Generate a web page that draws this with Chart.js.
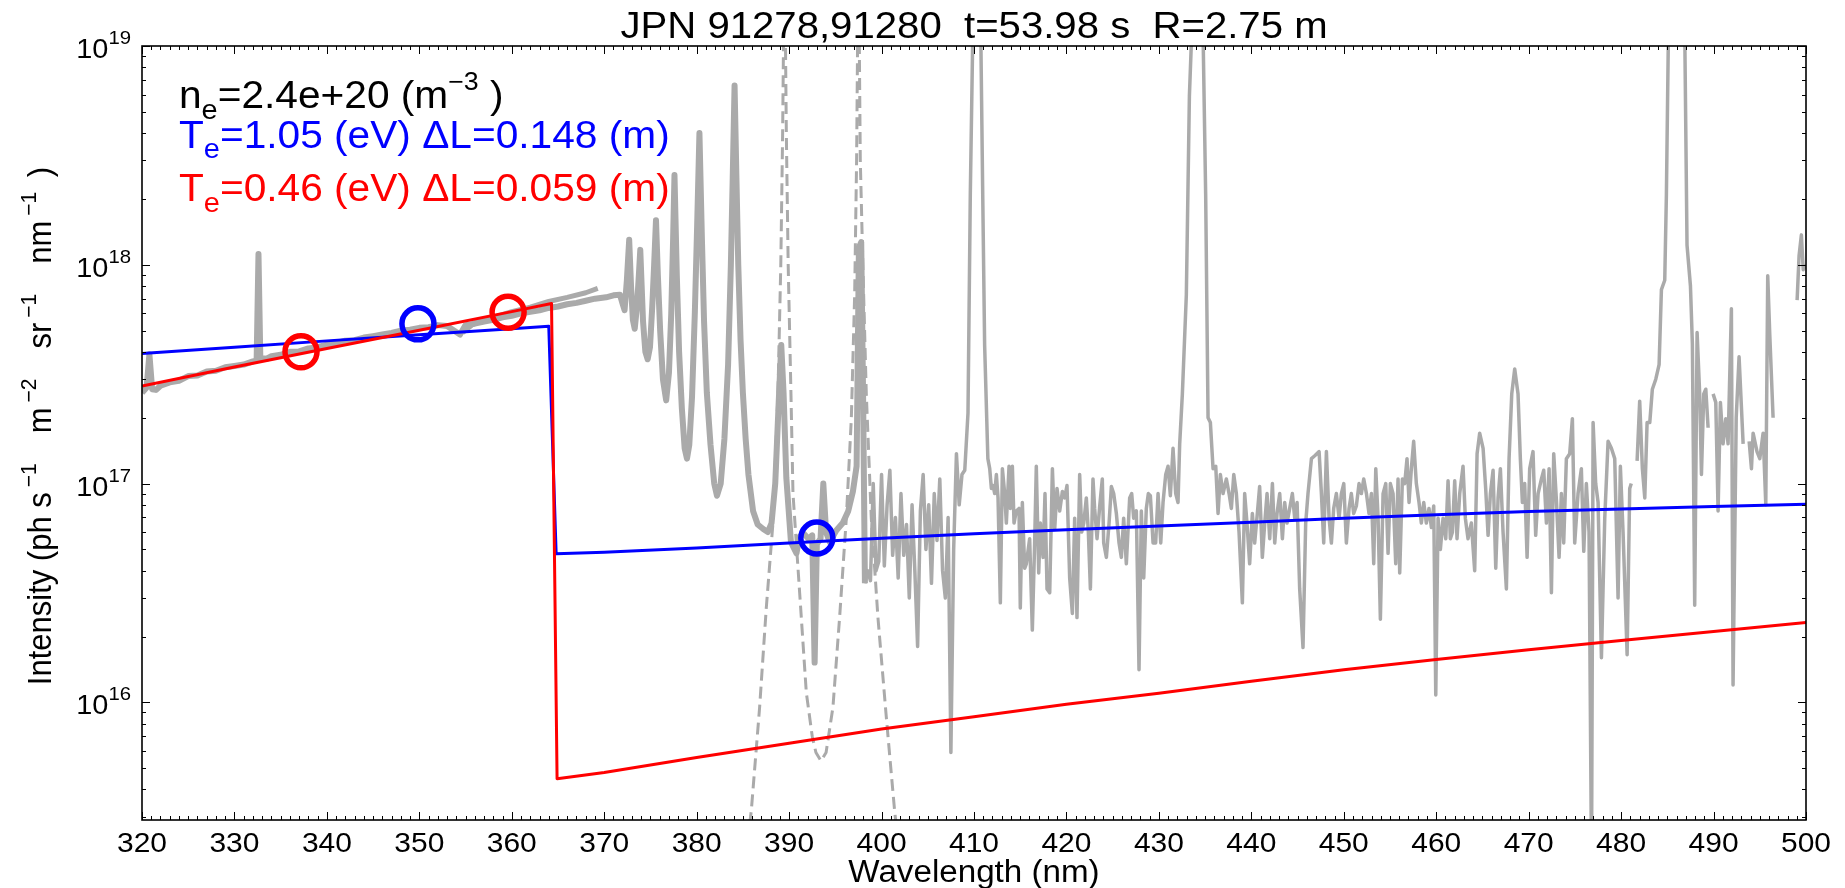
<!DOCTYPE html>
<html>
<head>
<meta charset="utf-8">
<script src="https://cdn.jsdelivr.net/npm/chart.js@4.4.1/dist/chart.umd.min.js"></script>
<style>
  html, body { margin: 0; padding: 0; background: #fff; }
  canvas { display: block; }
</style>
</head>
<body>
<canvas id="chart" width="1845" height="888"></canvas>
<script>
// Spectrum, shot 1 (320-398 nm)
const wlA = [320.0, 320.5, 320.8, 321.1, 321.5, 322, 323, 324, 325, 326, 327, 328, 329, 330, 331, 332, 332.4, 332.6, 332.8,
  333.5, 334, 335, 336, 337, 338, 339, 340, 341, 342, 343, 344, 345, 346, 347, 348, 349, 350, 351, 352, 353, 354.4,
  355, 356, 357, 358, 359, 360, 361, 362, 363, 364, 365, 366, 367, 368, 369, 370.2, 371.0, 371.7, 372.0, 372.2, 372.45,
  372.7, 372.9, 373.1, 373.3, 373.55, 373.75, 373.9, 374.05, 374.2, 374.45, 374.7, 374.95, 375.2, 375.4, 375.6, 375.8,
  376.05, 376.35, 376.7, 377.0, 377.25, 377.45, 377.6, 377.85, 378.1, 378.4, 378.7, 378.95, 379.2, 379.5, 379.8,
  380.05, 380.3, 380.55, 380.8, 381.1, 381.5, 381.9, 382.2, 382.6, 383.0, 383.4, 383.7, 383.9, 384.1, 384.3, 384.5,
  384.75, 385.0, 385.3, 385.6, 386.1, 386.6, 387.2, 387.7, 388.1, 388.5, 388.9, 389.15, 389.4, 389.7, 390.2, 390.8,
  391.1, 391.6, 392.1, 392.5, 392.76, 393.0, 393.4, 393.7, 394.0, 394.4, 395.1, 395.8, 396.4, 396.9, 397.3, 397.55,
  397.8, 398.0, 398.2];
const intA = [2.6e17, 2.75e17, 3.9e17, 2.7e17, 2.68e17, 2.8e17, 2.9e17, 2.95e17, 3.1e17, 3.12e17, 3.25e17, 3.28e17, 3.4e17,
  3.45e17, 3.5e17, 3.62e17, 3.65e17, 1.12e18, 3.75e17, 3.72e17, 3.82e17, 3.88e17, 4.0e17, 4.02e17, 4.15e17, 4.2e17,
  4.32e17, 4.38e17, 4.5e17, 4.52e17, 4.65e17, 4.72e17, 4.8e17, 4.88e17, 5.0e17, 5.05e17, 5.15e17, 5.18e17, 5.3e17,
  5.25e17, 4.8e17, 5.3e17, 5.38e17, 5.5e17, 5.6e17, 5.75e17, 5.85e17, 6.0e17, 6.1e17, 6.2e17, 6.35e17, 6.45e17,
  6.6e17, 6.7e17, 6.85e17, 7.0e17, 7.1e17, 7.25e17, 7.3e17, 6.6e17, 6.2e17, 8.5e17, 1.3e18, 8.0e17, 5.6e17, 5.1e17,
  6.5e17, 9.0e17, 1.17e18, 8.0e17, 5.5e17, 4.0e17, 3.7e17, 4.2e17, 6.5e17, 1.0e18, 1.6e18, 9.0e17, 5.0e17, 3.0e17,
  2.4e17, 3.2e17, 6.0e17, 1.3e18, 2.57e18, 9.0e17, 4.0e17, 2.2e17, 1.45e17, 1.3e17, 1.5e17, 2.5e17, 6.0e17, 1.5e18,
  4.0e18, 1.4e18, 5.5e17, 2.6e17, 1.5e17, 1.0e17, 8.8e16, 1.0e17, 1.6e17, 3.5e17, 1.0e18, 2.5e18, 6.6e18, 2.5e18,
  1.0e18, 4.5e17, 2.6e17, 1.6e17, 1.1e17, 7.5e16, 6.5e16, 6.2e16, 6.0e16, 6.6e16, 1.0e17, 2.5e17, 4.3e17, 2.6e17,
  1.06e17, 5.4e16, 4.8e16, 5.7e16, 5.9e16, 5.6e16, 5.8e16, 1.52e16, 5.3e16, 5.6e16, 1.0e17, 6.0e16, 5.4e16, 6.1e16,
  6.6e16, 7.5e16, 9.2e16, 1.2e17, 1.2e18, 1.27e18, 2.6e17, 3.5e16];

// Spectrum, shot 1 upper band overlap (354-369 nm)
const wlA2 = [354.7, 356, 358, 360, 362, 364, 366, 368, 369.3];
const intA2 = [4.9e17, 5.45e17, 5.75e17, 6.1e17, 6.4e17, 6.8e17, 7.1e17, 7.45e17, 7.8e17];

// Spectrum, shot 2 (398-497 nm), null = gap in the data
const wlB = [398.2, 398.5, 398.8, 399.1, 399.4, 399.7, 400.0, 400.3, 400.6, 400.9, 401.2, 401.5, 401.8, 402.1, 402.4,
  402.7, 403.0, 403.3, 403.6, 403.9, 404.2, 404.5, 404.8, 405.1, 405.4, 405.7, 406.0, 406.3, 406.6, 406.9, 407.2,
  407.5, 407.8, 408.1, 408.4, 408.7, 409.0, 409.35, 409.6, 409.85, 410.2, 410.45, 410.75, 410.95, 411.15, 411.5, 411.7,
  411.88, 412.06, 412.24, 412.42, 412.6, 412.85, 413.07, 413.32, 413.5, 413.79, 413.93, 414.15, 414.33, 414.58,
  414.87, 415.01, 415.23, 415.48, 415.66, 416.02, 416.31, 416.56, 416.74, 417.0, 417.18, 417.47, 417.68, 417.9,
  418.19, 418.48, 418.73, 418.98, 419.27, 419.56, 419.81, 420.06, 420.35, 420.64, 420.89, 421.14, 421.43, 421.65,
  421.87, 422.15, 422.37, 422.59, 422.87, 423.05, 423.31, 423.6, 423.88, 424.03, 424.32, 424.61, 424.86, 425.11,
  425.4, 425.69, 425.94, 426.19, 426.48, 426.84, 427.06, 427.27, 427.56, 427.85, 428.1, 428.36, 428.64, 428.86,
  429.08, 429.37, 429.65, 429.91, 430.2, 430.45, 430.74, 430.99, 431.24, 431.53, 431.82, 432.07, 432.25, 432.54,
  432.97, 433.3, 433.5, 433.9, 434.4, 434.8, 435.06, 435.32, 435.57, 435.86, 436.15, 436.4, 436.65, 436.94,
  437.3, 437.59, 437.84, 438.1, 438.38, 438.67, 439.03, 439.28, 439.53, 439.82, 440.11, 440.36, 440.65, 440.9,
  441.19, 441.45, 441.7, 441.99, 442.28, 442.53, 442.78, 443.07, 443.36, 443.61, 443.86, 444.15, 444.44, 444.69,
  444.95, 445.23, 445.59, 445.88, 446.13, 446.5, 446.86, 447.33, 447.58, 447.83, 448.12, 448.41, 448.66, 448.91,
  449.2, 449.49, 449.74, 450.0, 450.28, 450.57, 450.82, 451.07, 451.36, 451.65, 451.9, 452.16, 452.45, 452.73,
  452.99, 453.24, 453.46, 453.71, 453.96, 454.25, 454.54, 454.79, 455.04, 455.33, 455.62, 455.87, 456.05, 456.34,
  456.59, 456.84, 457.06, 457.31, 457.56, 457.85, 458.14, 458.39, 458.65, 458.93, 459.22, 459.48, 459.73, 459.95,
  460.2, 460.45, 460.74, 461.03, 461.28, 461.53, 461.75, 462.0, 462.25, 462.54, 462.9, 463.15, 463.44, 463.8,
  464.16, 464.42, 464.7, 465.07, 465.35, 465.61, 465.86, 466.15, 466.44, 466.69, 466.94, 467.23, 467.59, 467.88,
  468.17, 468.49, 468.85, 469.1, 469.32, 469.57, 469.83, 470.11, 470.47, 470.76, 471.02, 471.38, 471.63, 471.92,
  472.21, 472.46, 472.71, 473.0, 473.29, 473.54, 473.79, 474.08, 474.44, 474.73, 474.98, 475.34, 475.7, 475.96,
  476.24, 476.53, 476.8, 476.97, 477.25, 477.51, 477.87, 478.23, 478.59, 478.95, 479.31, 479.67, 479.92, 480.21,
  480.65, 480.93, 481.1, 481.4, 481.73, 482.01, 482.3, 482.56, 482.81, 483.1, 483.38, 483.75, 484.11, 484.36,
  484.72, 484.9, 485.1, 485.8, 486.5, 486.9, 487.13, 487.5, 487.71, 487.96, 488.22, 488.5, 488.69, 488.94,
  489.16, 489.41, 489.7, 489.95, 490.24, 490.49, 490.74, 491.03, 491.32, 491.57, 491.93, 492.11, 492.45, 492.76,
  493.2, 493.5, 493.85, 494.1, 494.28, 494.7, 495.0, 495.36, 495.65, 495.86, 496.08, 496.44];
const intB = [3.5e16, 4.0e16, 3.6e16, 1.0e17, 4.0e16, 4.4e16, 1.1e17, 4.2e16, 8.0e16, 1.15e17, 4.7e16, 7.0e16, 3.7e16,
  9.0e16, 4.7e16, 6.5e16, 3.0e16, 8.0e16, 4.0e16, 1.8e16, 7.5e16, 1.1e17, 5.0e16, 8.0e16, 3.5e16, 9.0e16, 5.5e16,
  1.05e17, 4.0e16, 3.0e16, 7.0e16, 5.9e15, 5.0e16, 1.37e17, 8.0e16, 1.1e17, 1.15e17, 2.1e17, 2.1e18, 1.0e19, 3.0e19,
  3.0e19, 1.0e19, 2.0e18, 4.3e17, 1.3e17, 1.17e17, 9.5e16, 9.8e16, 9.0e16, 1.1e17, 8.6e16, 2.85e16, 1.17e17, 9.0e16,
  6.6e16, 1.2e17, 7.7e16, 1.2e17, 6.6e16, 7.5e16, 7.7e16, 2.7e16, 8.2e16, 4.1e16, 4.3e16, 5.6e16, 2.14e16, 5.35e16,
  1.2e17, 3.9e16, 6.6e16, 4.6e16, 9.0e16, 3.3e16, 3.17e16, 1.17e17, 6.2e16, 9.5e16, 7.5e16, 9.2e16, 8.6e16, 9.8e16,
  3.7e16, 2.55e16, 6.95e16, 2.44e16, 1.1e17, 6.0e16, 6.6e16, 8.6e16, 6.0e16, 3.3e16, 1.05e17, 7.7e16, 5.6e16, 7.9e16,
  1.05e17, 5.35e16, 4.6e16, 6.6e16, 9.7e16, 9.0e16, 7.3e16, 5.35e16, 4.6e16, 6.95e16, 4.3e16, 8.6e16, 9.0e16, 6.95e16,
  7.5e16, 1.41e16, 7.5e16, 3.7e16, 7.7e16, 9.0e16, 8.8e16, 5.35e16, 5.35e16, 9.0e16, 5.35e16, 8.2e16, 1.1e17, 1.2e17,
  8.8e16, 1.45e17, 9.0e16, 8.2e16, 1.52e17, 2.57e17, 7.3e17, 5.9e18, 1.0e19, 3.0e19, 3.0e19, 1.0e19, 2.1e18, 2.0e17,
  1.9e17, 1.17e17, 1.2e17, 7.3e16, 1.1e17, 9.0e16, 1.05e17, 9.0e16, 7.7e16, 1.1e17, 9.0e16, 6.0e16, 2.85e16, 9.0e16,
  6.6e16, 4.3e16, 7.3e16, 5.35e16, 7.3e16, 9.7e16, 4.6e16, 6.6e16, 9.0e16, 5.6e16, 1.0e17, 5.35e16, 7.3e16, 9.0e16,
  5.6e16, 8.2e16, 6.6e16, 7.7e16, 9.0e16, 6.95e16, 8.2e16, 3.3e16, 1.78e16, 6.6e16, 9.0e16, 1.3e17, 1.34e17, 1.4e17,
  9.0e16, 5.35e16, 1.4e17, 6.95e16, 5.35e16, 7.7e16, 9.0e16, 6.95e16, 9.0e16, 1.0e17, 5.35e16, 7.7e16, 9.0e16, 7.3e16,
  7.9e16, 1.0e17, 9.0e16, 1.05e17, 9.0e16, 7.3e16, 9.0e16, 4.3e16, 1.17e17, 6.95e16, 2.4e16, 9.0e16, 1.0e17, 4.8e16,
  1.0e17, 9.0e16, 4.3e16, 1.05e17, 3.9e16, 1.05e17, 1.0e17, 1.3e17, 8.2e16, 1.17e17, 1.56e17, 1.0e17, 8.2e16, 6.6e16,
  8.2e16, 6.6e16, 7.7e16, 6.3e16, 7.9e16, 1.08e16, 6.95e16, 5.0e16, 6.95e16, 5.6e16, 1.03e17, 5.6e16, 6.0e16, 1.03e17,
  5.6e16, 9.0e16, 1.2e17, 6.95e16, 5.6e16, 6.6e16, 4.0e16, 1.37e17, 1.7e17, 1.45e17, 9.5e16, 5.8e16, 9.0e16, 1.15e17,
  4.1e16, 8.6e16, 1.17e17, 6.0e16, 3.3e16, 1.3e17, 2.57e17, 3.34e17, 2.57e17, 1.3e17, 8.2e16, 1.0e17, 4.6e16, 1.17e17,
  1.4e17, 5.8e16, 9.0e16, 1.05e17, 1.15e17, 6.6e16, 1.17e17, 3.17e16, 1.37e17, 8.4e16, 4.6e16, 9.0e16, 5.35e16,
  1.3e17, 1.37e17, 1.98e17, 5.35e16, 9.0e16, 1.17e17, 4.9e16, 1.0e17, 6.0e16, 1.8e15, 1.9e17, 1.0e17, 8.2e16, 1.6e16,
  6.95e16, 1.56e17, 1.45e17, 1.3e17, 3.0e16, 1.2e17, 6.0e16, 1.65e16, 9.5e16, 1.0e17, null, 1.27e17, 2.38e17, 1.17e17,
  8.6e16, 1.9e17, 1.9e17, 2.7e17, 3.0e17, 3.5e17, 7.7e17, 8.5e17, 2.1e18, 1.0e19, 5.0e19, 5.0e19, 1.0e19, 1.23e18,
  8.0e17, 4.34e17, 2.78e16, 4.9e17, 2.57e17, 1.1e17, 2.57e17, 2.7e17, 1.8e17, null, 2.57e17, 2.35e17, 7.5e16, 2.35e17,
  1.52e17, 1.98e17, 1.52e17, 6.3e17, 1.2e16, 2.0e17, 3.8e17, 1.52e17, null, 1.56e17, 1.17e17, 1.7e17, 1.4e17, 1.3e17,
  1.7e17, 8.0e16, 8.9e17, 4.8e17, 2.0e17];

// Spectrum tail at the right edge
const wlC = [499.04, 499.25, 499.5, 499.7, 500.0];
const intC = [6.9e17, 1.1e18, 1.37e18, 9.5e17, 1.0e18];

// Dashed fit of the two Balmer lines
const wlFit = [385.5, 385.91, 386.81, 387.53, 388.25, 388.79, 389.1, 389.3, 389.5, 389.7, 389.9, 390.2, 390.42, 391.14,
  391.86, 392.5, 392.9, 393.45, 394.0, 394.74, 395.46, 396.19, 396.73, 397.09, 397.3, 397.5, 397.7, 397.99, 398.35,
  398.89, 399.61, 400.51, 401.41, 401.8];
const intFit = [2.3e15, 3.2e15, 9.5e15, 2.7e16, 6.6e16, 2.57e17, 1.0e18, 4.0e18, 3.0e19, 4.0e18, 1.0e18, 2.57e17, 9.0e16,
  3.17e16, 1.11e16, 7.0e15, 5.9e15, 5.4e15, 5.9e15, 9.5e15, 2.44e16, 6.95e16, 1.98e17, 7.3e17, 3.0e18, 3.0e19, 3.0e18,
  9.5e17, 2.57e17, 6.95e16, 2.44e16, 8.6e15, 3.2e15, 2.3e15];

// Model continua
const wlBlue = [320, 330, 340, 350, 360, 364.0, 364.8, 370, 380, 390, 400, 410, 420, 430, 440, 450, 460, 470, 480, 490, 500];
const intBlue = [3.93e17, 4.2e17, 4.49e17, 4.79e17, 5.1e17, 5.24e17, 4.78e16, 4.85e16, 5.08e16, 5.35e16, 5.63e16, 5.9e16,
  6.15e16, 6.4e16, 6.65e16, 6.95e16, 7.2e16, 7.45e16, 7.65e16, 7.85e16, 8.05e16];
const wlRed = [320, 330, 340, 350, 360, 364.3, 364.9, 370, 380, 390, 400, 410, 420, 430, 440, 450, 460, 470, 480, 490, 500];
const intRed = [2.79e17, 3.41e17, 4.14e17, 5.02e17, 6.11e17, 6.65e17, 4.48e15, 4.78e15, 5.6e15, 6.5e15, 7.55e15, 8.6e15,
  9.8e15, 1.1e16, 1.25e16, 1.41e16, 1.57e16, 1.74e16, 1.92e16, 2.11e16, 2.32e16];

// Fitted points
const wlBlueDots = [349.85, 393.0];
const intBlueDots = [5.37e17, 5.64e16];
const wlRedDots = [337.2, 359.6];
const intRedDots = [4.0e17, 6.07e17];

// Axes and texts
const X_MIN = 320, X_MAX = 500, Y_MIN = 2.9e15, Y_MAX = 1e19;
const xTickLabels = [320, 330, 340, 350, 360, 370, 380, 390, 400, 410, 420, 430, 440, 450, 460, 470, 480, 490, 500];
const yTickExps = [16, 17, 18, 19];
const titleText = 'JPN 91278,91280  t=53.98 s  R=2.75 m';
const xLabelText = 'Wavelength (nm)';

const FONT = "'Liberation Sans', Arial, Helvetica, sans-serif";
const STRETCH = 1.07; // the reference text is a bit wider than tall
const GRAY = '#aaaaaa';

function pts(xs, ys) {
  return xs.map((x, i) => ({ x: x, y: ys[i] }));
}

function runsWidth(ctx, runs) {
  let w = 0;
  runs.forEach(r => {
    ctx.font = r.size + 'px ' + FONT;
    w += ctx.measureText(r.t).width + (r.gap || 0);
  });
  return w;
}

// draw text made of pieces (for sub/superscripts)
function drawRuns(ctx, runs, x, y, align, color, rotate) {
  ctx.save();
  ctx.translate(x, y);
  if (rotate) {
    ctx.rotate(-Math.PI / 2);
    ctx.scale(1, STRETCH);
  } else {
    ctx.scale(STRETCH, 1);
  }
  const w = runsWidth(ctx, runs);
  let cx = align === 'center' ? -w / 2 : (align === 'right' ? -w : 0);
  ctx.fillStyle = color;
  ctx.textAlign = 'left';
  ctx.textBaseline = 'alphabetic';
  runs.forEach(r => {
    ctx.font = r.size + 'px ' + FONT;
    ctx.fillText(r.t, cx, r.dy || 0);
    cx += ctx.measureText(r.t).width + (r.gap || 0);
  });
  ctx.restore();
}

const axesPlugin = {
  id: 'axesPlugin',
  afterDraw(chart) {
    const ctx = chart.ctx;
    const xs = chart.scales.x;
    const ys = chart.scales.y;
    const a = chart.chartArea;

    ctx.save();
    ctx.strokeStyle = '#000';
    ctx.lineWidth = 1;
    ctx.beginPath();
    // x ticks, every nm, bottom and top, pointing in
    for (let v = X_MIN; v <= X_MAX; v++) {
      const px = Math.round(xs.getPixelForValue(v)) + 0.5;
      const len = v % 10 === 0 ? 8 : 4;
      ctx.moveTo(px, a.bottom); ctx.lineTo(px, a.bottom - len);
      ctx.moveTo(px, a.top); ctx.lineTo(px, a.top + len);
    }
    // y ticks, decades and 2..9, left and right
    for (let e = 15; e <= 19; e++) {
      for (let m = 1; m <= 9; m++) {
        const v = m * Math.pow(10, e);
        if (v < Y_MIN || v > Y_MAX) continue;
        const py = Math.round(ys.getPixelForValue(v)) + 0.5;
        const len = m === 1 ? 8 : 4;
        ctx.moveTo(a.left, py); ctx.lineTo(a.left + len, py);
        ctx.moveTo(a.right, py); ctx.lineTo(a.right - len, py);
      }
    }
    ctx.stroke();

    ctx.lineWidth = 1.6;
    ctx.strokeRect(a.left, a.top, a.right - a.left, a.bottom - a.top);
    ctx.restore();

    // tick labels
    xTickLabels.forEach(v => {
      drawRuns(ctx, [{ t: String(v), size: 28 }], xs.getPixelForValue(v), 852, 'center', '#000');
    });
    yTickExps.forEach(e => {
      const py = ys.getPixelForValue(Math.pow(10, e));
      drawRuns(ctx, [{ t: '10', size: 27 }, { t: String(e), size: 19, dy: -14 }], a.left - 11, py + 12, 'right', '#000');
    });

    // axis titles
    drawRuns(ctx, [{ t: xLabelText, size: 31 }], (a.left + a.right) / 2, 882, 'center', '#000');
    drawRuns(ctx, [
      { t: 'Intensity (ph s', size: 31, gap: 5 },
      { t: '\u22121', size: 21, dy: -14, gap: 30 },
      { t: 'm', size: 31, gap: 5 },
      { t: '\u22122', size: 21, dy: -14, gap: 30 },
      { t: 'sr', size: 31, gap: 5 },
      { t: '\u22121', size: 21, dy: -14, gap: 30 },
      { t: 'nm', size: 31, gap: 5 },
      { t: '\u22121', size: 21, dy: -14, gap: 6 },
      { t: ' )', size: 31 }
    ], 51, 426, 'center', '#000', true);

    // title
    drawRuns(ctx, [{ t: titleText, size: 37.5 }], (a.left + a.right) / 2, 38, 'center', '#000');

    // fit results
    drawRuns(ctx, [
      { t: 'n', size: 38 }, { t: 'e', size: 27, dy: 11 }, { t: '=2.4e+20 (m', size: 38 },
      { t: '\u22123', size: 25, dy: -18 }, { t: ' )', size: 38 }
    ], 179, 108, 'left', '#000');
    drawRuns(ctx, [
      { t: 'T', size: 38 }, { t: 'e', size: 27, dy: 10 }, { t: '=1.05 (eV) \u0394L=0.148 (m)', size: 38 }
    ], 179, 148, 'left', '#0000ff');
    drawRuns(ctx, [
      { t: 'T', size: 38 }, { t: 'e', size: 27, dy: 11 }, { t: '=0.46 (eV) \u0394L=0.059 (m)', size: 38 }
    ], 179, 201, 'left', '#ff0000');
  }
};

new Chart(document.getElementById('chart'), {
  type: 'line',
  data: {
    datasets: [
      { data: pts(wlRedDots, intRedDots), showLine: false, pointRadius: 16, pointBorderWidth: 5.5,
        pointBorderColor: '#ff0000', pointBackgroundColor: 'rgba(0,0,0,0)', clip: false, order: 0 },
      { data: pts(wlBlueDots, intBlueDots), showLine: false, pointRadius: 16, pointBorderWidth: 5.5,
        pointBorderColor: '#0000ff', pointBackgroundColor: 'rgba(0,0,0,0)', clip: false, order: 1 },
      { data: pts(wlRed, intRed), borderColor: '#ff0000', borderWidth: 3, pointRadius: 0, clip: 0, order: 2 },
      { data: pts(wlBlue, intBlue), borderColor: '#0000ff', borderWidth: 3, pointRadius: 0, clip: 0, order: 3 },
      { data: pts(wlFit, intFit), borderColor: GRAY, borderWidth: 3, borderDash: [12, 6], pointRadius: 0, clip: 0, order: 4 },
      { data: pts(wlB, intB), borderColor: GRAY, borderWidth: 3.5, pointRadius: 0, clip: 0, order: 5 },
      { data: pts(wlC, intC), borderColor: GRAY, borderWidth: 3.5, pointRadius: 0, clip: 0, order: 6 },
      { data: pts(wlA2, intA2), borderColor: GRAY, borderWidth: 5, pointRadius: 0, clip: 0, order: 7 },
      { data: pts(wlA, intA), borderColor: GRAY, borderWidth: 6, pointRadius: 0, clip: 0, order: 8 }
    ]
  },
  options: {
    responsive: false,
    animation: false,
    events: [],
    layout: { padding: { left: 142, right: 39, top: 46, bottom: 68 } },
    plugins: { legend: { display: false }, tooltip: { enabled: false }, title: { display: false } },
    elements: { line: { tension: 0, borderJoinStyle: 'round', borderCapStyle: 'butt' }, point: { radius: 0 } },
    scales: {
      x: { type: 'linear', min: X_MIN, max: X_MAX, display: false },
      y: { type: 'logarithmic', min: Y_MIN, max: Y_MAX, display: false }
    }
  },
  plugins: [axesPlugin]
});
</script>
</body>
</html>
